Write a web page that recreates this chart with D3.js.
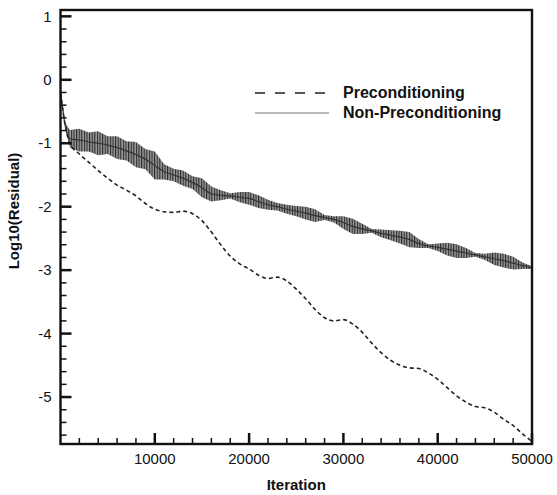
<!DOCTYPE html>
<html>
<head>
<meta charset="utf-8">
<script src="https://cdn.jsdelivr.net/npm/d3@7"></script>
<style>
    body { margin: 0; background: #fff; }
    text { font-family: "Liberation Sans", Arial, sans-serif; fill: #111; }
</style>
</head>
<body>
<div id="chart"></div>
<script>
// iteration samples
const iterations = [0, 500, 1000, 2000, 3000, 4000, 5000, 6000, 7000, 8000, 9000,
    10000, 11000, 12000, 13000, 14000, 15000, 16000, 17000, 18000, 19000,
    20000, 21000, 22000, 23000, 24000, 25000, 26000, 27000, 28000, 29000,
    30000, 31000, 32000, 33000, 34000, 35000, 36000, 37000, 38000, 39000,
    40000, 41000, 42000, 43000, 44000, 45000, 46000, 47000, 48000, 49000, 50000];

// dashed curve
const precond = [-0.2, -0.72, -1.0, -1.17, -1.3, -1.43, -1.55, -1.66, -1.74, -1.83, -1.95,
    -2.04, -2.08, -2.09, -2.07, -2.11, -2.22, -2.4, -2.6, -2.78, -2.9,
    -2.98, -3.08, -3.13, -3.11, -3.17, -3.3, -3.45, -3.62, -3.75, -3.8,
    -3.78, -3.85, -3.98, -4.15, -4.3, -4.42, -4.5, -4.54, -4.55, -4.62,
    -4.72, -4.85, -4.98, -5.08, -5.15, -5.17, -5.24, -5.35, -5.45, -5.58, -5.7];

// solid curve: middle of the oscillating band and its half height
const nonPrecondMid = [-0.18, -0.72, -0.93, -0.95, -0.98, -1.0, -1.03, -1.07, -1.12, -1.18, -1.25,
    -1.35, -1.45, -1.5, -1.55, -1.62, -1.7, -1.8, -1.82, -1.83, -1.85,
    -1.87, -1.92, -1.97, -2.0, -2.04, -2.07, -2.1, -2.14, -2.17, -2.2,
    -2.25, -2.31, -2.35, -2.38, -2.42, -2.45, -2.48, -2.52, -2.58, -2.62,
    -2.64, -2.67, -2.7, -2.73, -2.76, -2.79, -2.82, -2.85, -2.89, -2.93, -2.96];
const nonPrecondSpread = [0, 0.04, 0.14, 0.18, 0.15, 0.19, 0.14, 0.18, 0.15, 0.2, 0.16,
    0.22, 0.12, 0.1, 0.12, 0.1, 0.15, 0.12, 0.08, 0.04, 0.08,
    0.1, 0.1, 0.08, 0.06, 0.07, 0.08, 0.1, 0.1, 0.04, 0.05,
    0.1, 0.12, 0.08, 0.03, 0.06, 0.08, 0.1, 0.12, 0.07, 0.03,
    0.06, 0.1, 0.11, 0.08, 0.03, 0.05, 0.1, 0.11, 0.1, 0.05, 0.02];

const xTicks = [10000, 20000, 30000, 40000, 50000];
const yTicks = [-5, -4, -3, -2, -1, 0, 1];
const legendLabels = ["Preconditioning", "Non-Preconditioning"];

let margin = { top: 10, right: 25, bottom: 51, left: 60.5 };
let width = 557 - margin.left - margin.right;
let height = 495 - margin.top - margin.bottom;

let svg = d3.select("#chart").append("svg")
    .attr("width", 557)
    .attr("height", 495)
    .append("g")
    .attr("transform", `translate(${margin.left}, ${margin.top})`);

let x = d3.scaleLinear().domain([0, 50000]).range([0, width]);
let y = d3.scaleLinear().domain([-5.74, 1.1]).range([height, 0]);

// hatch so the band looks like a dense oscillation
let defs = svg.append("defs");
let pat = defs.append("pattern")
    .attr("id", "hatch")
    .attr("width", 2.6)
    .attr("height", 6)
    .attr("patternUnits", "userSpaceOnUse");
pat.append("rect").attr("width", 2.6).attr("height", 6).attr("fill", "#9a9a9a");
pat.append("rect").attr("width", 1.1).attr("height", 6).attr("fill", "#2a2a2a");

let rows = iterations.map((d, i) => ({
    it: d, pre: precond[i], mid: nonPrecondMid[i], sp: nonPrecondSpread[i]
}));

let band = d3.area()
    .x(d => x(d.it))
    .y0(d => y(d.mid - d.sp))
    .y1(d => y(d.mid + d.sp))
    .curve(d3.curveLinear);

svg.append("path")
    .datum(rows)
    .attr("d", band)
    .attr("fill", "url(#hatch)");

svg.append("path")
    .datum(rows)
    .attr("d", d3.line().x(d => x(d.it)).y(d => y(d.mid)).curve(d3.curveMonotoneX))
    .attr("fill", "none")
    .attr("stroke", "#333")
    .attr("stroke-width", 1.2);

svg.append("path")
    .datum(rows)
    .attr("d", d3.line().x(d => x(d.it)).y(d => y(d.pre)).curve(d3.curveMonotoneX))
    .attr("fill", "none")
    .attr("stroke", "#222")
    .attr("stroke-width", 1.6)
    .attr("stroke-dasharray", "4,3");

// tick marks, drawn inward from the left and bottom edges
let xMinorTicks = d3.range(2000, 50000, 2000).filter(d => d % 10000 !== 0);
let yMinorTicks = d3.range(-5.6, 1.01, 0.2).filter(d => Math.abs(d - Math.round(d)) > 0.01);

svg.selectAll(".xtick")
    .data(xTicks.concat(xMinorTicks))
    .enter()
    .append("line")
    .attr("class", "xtick")
    .attr("x1", d => x(d)).attr("x2", d => x(d))
    .attr("y1", height)
    .attr("y2", d => height - (d % 10000 === 0 ? 11 : 6))
    .attr("stroke", "#111")
    .attr("stroke-width", d => d % 10000 === 0 ? 2.5 : 1.5);

svg.selectAll(".ytick")
    .data(yTicks.concat(yMinorTicks))
    .enter()
    .append("line")
    .attr("class", "ytick")
    .attr("x1", 0)
    .attr("x2", d => Number.isInteger(d) ? 11 : 6)
    .attr("y1", d => y(d)).attr("y2", d => y(d))
    .attr("stroke", "#111")
    .attr("stroke-width", d => Number.isInteger(d) ? 2.5 : 1.5);

svg.selectAll(".xlabel")
    .data(xTicks)
    .enter()
    .append("text")
    .attr("class", "xlabel")
    .attr("x", d => x(d))
    .attr("y", height + 20)
    .attr("text-anchor", "middle")
    .style("font-size", "15px")
    .text(d => d);

svg.selectAll(".ylabel")
    .data(yTicks)
    .enter()
    .append("text")
    .attr("class", "ylabel")
    .attr("x", -9)
    .attr("y", d => y(d))
    .attr("dy", "0.35em")
    .attr("text-anchor", "end")
    .style("font-size", "15px")
    .text(d => d);

// frame
svg.append("rect")
    .attr("width", width)
    .attr("height", height)
    .attr("fill", "none")
    .attr("stroke", "#111")
    .attr("stroke-width", 2.4);

// axis titles
svg.append("text")
    .attr("x", width / 2)
    .attr("y", height + 46)
    .attr("text-anchor", "middle")
    .style("font-size", "15px")
    .style("font-weight", "bold")
    .text("Iteration");

svg.append("text")
    .attr("transform", "rotate(-90)")
    .attr("x", -(211 - margin.top))
    .attr("y", -margin.left + 19)
    .attr("text-anchor", "middle")
    .style("font-size", "15px")
    .style("font-weight", "bold")
    .text("Log10(Residual)");

// legend
let legend = svg.append("g").attr("transform", "translate(194.5, 83)");
legend.append("line")
    .attr("x1", 0).attr("x2", 74).attr("y1", 0).attr("y2", 0)
    .attr("stroke", "#222").attr("stroke-width", 1.3).attr("stroke-dasharray", "10,10");
legend.append("line")
    .attr("x1", 0).attr("x2", 74).attr("y1", 20).attr("y2", 20)
    .attr("stroke", "#777").attr("stroke-width", 1.2);
legend.selectAll(".lbl")
    .data(legendLabels)
    .enter()
    .append("text")
    .attr("class", "lbl")
    .attr("x", 88)
    .attr("y", (d, i) => 5 + i * 20)
    .style("font-size", "16px")
    .style("font-weight", "bold")
    .text(d => d);
</script>
</body>
</html>
